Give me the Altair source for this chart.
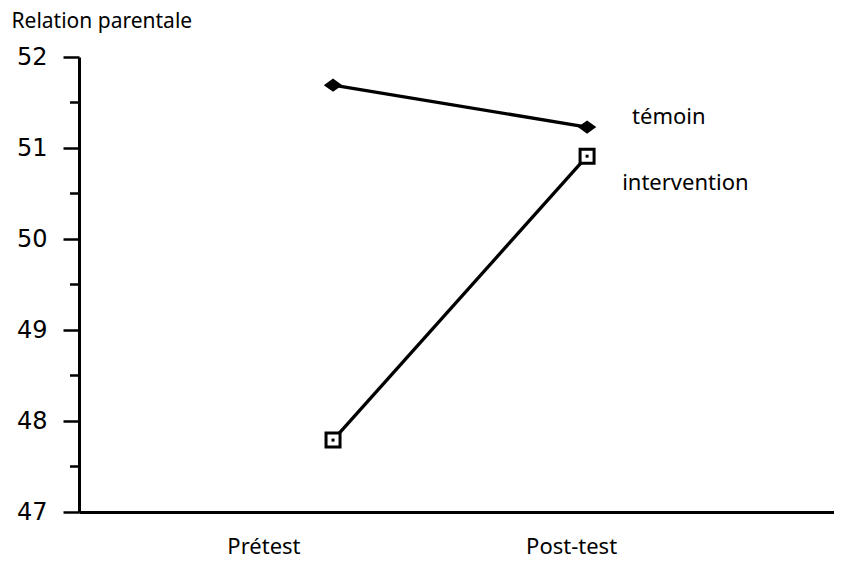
import altair as alt
import pandas as pd

# Data
phases = ["Prétest", "Post-test"]
phase_pos = [1, 2]
temoin = [51.69, 51.23]
intervention = [47.79, 50.91]

series_names = ["témoin", "intervention"]
series_label_x = [2.177, 2.138]
series_label_y = [51.34, 50.62]

phase_label_pos = [0.726, 1.937]
major_ticks = [47, 48, 49, 50, 51, 52]
minor_ticks = [47.5, 48.5, 49.5, 50.5, 51.5]

rows = []
for i, p in enumerate(phases):
    rows.append({"phase": p, "x": phase_pos[i], "value": temoin[i], "group": "témoin"})
    rows.append({"phase": p, "x": phase_pos[i], "value": intervention[i], "group": "intervention"})
df = pd.DataFrame(rows)

lab = pd.DataFrame({"name": series_names, "x": series_label_x, "y": series_label_y})
minor = pd.DataFrame({"v": minor_ticks})

TXT = "Noto Sans"
xs = alt.Scale(domain=[0, 2.972], nice=False, zero=False)
ys = alt.Scale(domain=[47, 52], nice=False, zero=False)

x_axis = alt.Axis(
    values=phase_label_pos,
    labelExpr="datum.value < 1 ? 'Prétest' : 'Post-test'",
    ticks=False, tickSize=0, grid=False, title=None,
    domainColor="black", domainWidth=3,
    labelFont=TXT, labelFontSize=22, labelColor="black", labelPadding=41,
    labelBaseline="alphabetic",
)
y_axis = alt.Axis(
    values=major_ticks, format="d",
    tickSize=16, tickColor="black", tickWidth=2.5,
    grid=False, domainColor="black", domainWidth=3,
    labelFont="DejaVu Sans", labelFontSize=24, labelColor="black", labelPadding=16,
    title="Relation parentale", titleAngle=0, titleAlign="left", titleBaseline="alphabetic",
    titleX=-68, titleY=-30, titleFont=TXT, titleFontSize=21, titleFontWeight="normal",
    titleColor="black",
)

base = alt.Chart(df).encode(
    x=alt.X("x:Q", scale=xs, axis=x_axis),
    y=alt.Y("value:Q", scale=ys, axis=y_axis),
)

minor_rules = alt.Chart(minor).mark_rule(color="black", strokeWidth=2.5).encode(
    y=alt.Y("v:Q", scale=ys), x=alt.value(-9), x2=alt.value(0)
)

lines = base.mark_line(color="black", strokeWidth=3.3).encode(detail="group:N")

diamonds = base.transform_filter(alt.datum.group == "témoin").mark_point(
    shape="M-1,0L0,-0.72L1,0L0,0.72Z", size=340, filled=True, color="black", opacity=1
)
squares = base.transform_filter(alt.datum.group == "intervention").mark_point(
    shape="square", size=196, filled=False, fill="white", stroke="black", strokeWidth=3, opacity=1
)
dots = base.transform_filter(alt.datum.group == "intervention").mark_point(
    shape="square", size=9, filled=True, color="black", opacity=1
)

labels = alt.Chart(lab).mark_text(
    align="left", baseline="middle", font=TXT, fontSize=22, color="black"
).encode(x=alt.X("x:Q", scale=xs), y=alt.Y("y:Q", scale=ys), text="name:N")

chart = alt.layer(minor_rules, lines, diamonds, squares, dots, labels).properties(
    width=755, height=455,
    background="white",
    autosize=alt.AutoSizeParams(type="none"),
    padding={"left": 71, "top": 49, "right": 0, "bottom": 50},
).configure_view(strokeWidth=0, stroke=None)

chart.save("out.html", embed_options={"renderer": "svg", "actions": False})
